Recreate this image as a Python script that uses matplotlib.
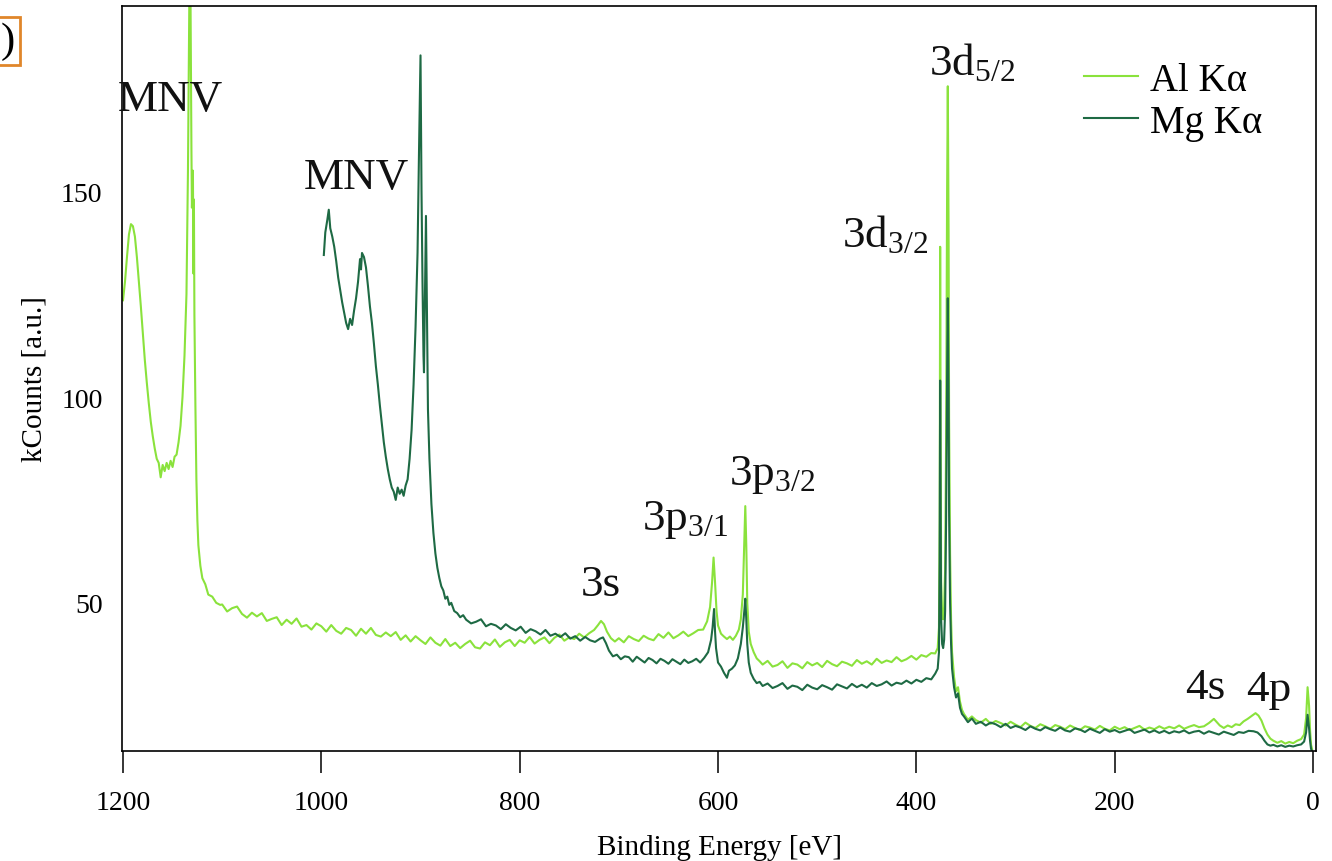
import matplotlib
matplotlib.use("Agg")
import matplotlib.pyplot as plt

plt.rcParams['font.family'] = ['Liberation Serif', 'DejaVu Serif']
plt.rcParams['mathtext.fontset'] = 'custom'
plt.rcParams['mathtext.rm'] = 'Liberation Serif'
plt.rcParams['mathtext.it'] = 'Liberation Serif:italic'

# survey spectrum, Al K-alpha source: binding energy [eV] / kCounts
al_energy = [
    1200, 1198, 1196, 1194, 1192, 1190, 1188, 1186, 1184, 1182, 1180, 1178, 1176, 1174, 1172, 1170,
    1168, 1166, 1164, 1162, 1160, 1158, 1156, 1154, 1152, 1150, 1148, 1146, 1144, 1142, 1140, 1138,
    1136, 1134.5, 1133, 1132, 1131, 1130.5, 1129.5, 1129, 1128.5, 1128, 1127, 1126, 1125, 1124, 1122,
    1120, 1117, 1114, 1110, 1106, 1102,
    1100, 1095, 1090, 1085, 1080, 1075, 1070, 1065, 1060, 1055, 1050, 1045, 1040, 1035, 1030, 1025,
    1020, 1015, 1010, 1005, 1000, 995, 990, 985, 980, 975, 970, 965, 960, 955, 950, 945, 940, 935,
    930, 925, 920, 915, 910, 905, 900, 895, 890, 885, 880, 875, 870, 865, 860, 855, 850, 845, 840,
    835, 830, 825, 820, 815, 810, 805, 800, 795, 790, 785, 780, 775, 770, 765, 760, 755, 750, 745,
    740, 735, 730, 725, 721, 718, 715, 712, 708, 704, 700, 695, 690, 685, 680, 675, 670, 665, 660,
    655, 650, 645, 640, 635, 630, 625, 620, 615, 611, 608, 606, 604.5, 603, 601.5, 600, 597, 594,
    591, 588, 585, 582, 579, 577, 575, 573.5, 572.5, 571.5, 570.5, 569, 567, 564, 561, 558, 555, 550,
    545, 540, 535, 530, 525, 520, 515, 510, 505, 500, 495, 490, 485, 480, 475, 470, 465, 460, 455,
    450, 445, 440, 435, 430, 425, 420, 415, 410, 405, 400, 395, 390, 385, 381,
    378.5, 377.2, 376.5, 376, 375.5, 375, 374, 373, 372, 371, 370, 369, 368.3, 367.5, 367, 366, 365,
    364, 362, 360, 358, 356, 354,
    352, 348, 344, 340, 335, 330, 325, 320, 315, 310, 305, 300, 295, 290, 285, 280, 275, 270, 265,
    260, 255, 250, 245, 240, 235, 230, 225, 220, 215, 210, 205, 200, 195, 190, 185, 180, 175, 170,
    165, 160, 155, 150, 145, 140, 135, 130, 125, 120, 115, 110, 105, 100, 97, 94, 90, 86, 82, 78, 74,
    70, 66, 62, 58, 55, 52, 49, 46, 43, 40, 36, 32, 28, 24, 20, 16, 12, 9, 7, 5.5, 4, 3, 2, 1,
]
al_counts = [
    123.5, 128, 134, 139.5, 142, 141.5, 139, 134, 128, 122, 115.5, 109, 103.5, 98.5, 94, 90.5,
    87.5, 85, 84, 80.5, 83.5, 82, 84, 82.5, 84.5, 83, 85.5, 86, 89, 93, 100, 110,
    125, 155, 200, 200, 160, 146, 155, 130, 148, 120, 98, 80, 70, 64, 59,
    56, 54.5, 52, 51.5, 50, 49.5,
    49.6, 47.9, 48.7, 49.1, 47.3, 46.4, 47.6, 46.7, 47.5, 45.6, 46.1, 46.5, 44.6, 45.9, 44.9, 46.2,
    44.2, 44.6, 43.5, 45.0, 44.3, 43.0, 44.6, 43.2, 42.5, 43.9, 43.4, 42.0, 43.7, 42.5, 43.9, 42.2, 41.8, 42.8,
    41.9, 42.9, 41.0, 42.1, 40.6, 41.9, 40.9, 40.0, 41.6, 40.3, 39.6, 41.2, 39.5, 40.3, 39.0, 40.0, 40.8, 39.2, 38.9,
    40.4, 39.7, 41.1, 39.3, 40.4, 41.0, 39.5, 40.9, 40.3, 41.7, 40.1, 41.0, 41.6, 40.2, 41.5, 42.3, 40.8, 41.6, 41.2,
    42.5, 41.6, 42.6, 43.4, 44.6, 45.6, 44.8, 43.0, 41.4, 40.6, 41.4, 40.4, 41.9, 41.2, 40.7, 42.0, 41.3, 40.9, 42.4,
    41.5, 42.8, 41.4, 42.1, 43.0, 41.9, 42.6, 43.4, 43.5, 45.5, 49, 55, 61, 55, 48, 44.5, 42.5, 41.8,
    41.2, 41.8, 41.0, 42.0, 43.5, 46, 52, 65, 73.5, 64, 50, 43, 40, 38, 36.5, 35.8, 35.0, 35.9,
    34.5, 34.9, 35.8, 34.2, 35.3, 35.0, 34.1, 35.6, 34.8, 35.4, 34.4, 35.9, 35.1, 34.6, 35.7, 35.3, 34.7, 36.1, 35.2,
    35.8, 35.0, 36.4, 35.4, 36.0, 35.6, 36.8, 35.8, 36.3, 37.1, 36.2, 37.3, 36.9, 37.8, 37.7,
    39, 44, 70, 136.5, 90, 55, 47, 46, 49, 58, 90, 150, 175.5, 140, 95, 62, 46,
    38, 32, 28.5, 29.5, 26, 24,
    23.0, 21.6, 22.4, 21.5, 20.9, 21.8, 20.6, 21.3, 20.8, 20.2, 21.1, 20.4, 19.8, 20.9, 20.1, 19.6, 20.5, 20.0, 19.4,
    20.3, 19.9, 19.3, 20.2, 19.6, 19.1, 20.0, 19.7, 19.2, 20.1, 19.4, 19.0, 19.9, 19.3, 19.8, 19.1, 19.6, 20.1, 19.2,
    19.7, 19.3, 20.0, 19.4, 19.9, 19.5, 20.2, 19.4, 19.9, 20.3, 19.8, 20.0, 20.8, 21.8, 21.0, 20.2, 19.6, 20.2, 19.8, 20.5, 20.3,
    21.2, 21.8, 22.5, 23.2, 22.6, 21.4, 19.5, 18.0, 17.0, 16.5, 16.0, 16.4, 15.8, 16.2, 15.9, 16.5, 16.9, 18.0, 22, 29.5, 25, 19, 15.5, 14.5,
]

# same sample, Mg K-alpha source
mg_energy = [
    997.5, 996, 994, 992.5, 991, 989, 987, 985, 983, 981, 979, 977, 975, 973, 971, 969, 967, 965,
    963, 961, 960, 959, 957, 955, 953, 951, 949, 947, 945, 943, 941, 939, 937, 935, 933, 931, 929,
    927, 925, 923, 921, 919, 917, 915, 913, 911, 909, 907, 905, 903, 901.5, 900, 899, 898, 897,
    896.5, 895.5, 894.5, 893.5, 892.5, 891, 889, 887, 885, 883, 881, 879, 877, 875, 873, 871, 869,
    866, 863, 860, 857,
    854, 849, 844, 839, 834, 829, 824, 819, 814, 809, 804, 799, 794, 789, 784, 779, 774, 769, 764,
    759, 754, 749, 744, 739, 734, 729, 724, 719, 716, 713, 710, 706, 702, 698, 694, 690, 686, 682,
    678, 674, 670, 666, 662, 658, 654, 650, 646, 642, 638, 634, 630, 626, 622, 618, 614, 610, 607,
    605.5, 604, 603, 602, 600, 597, 594, 591, 589, 586, 583, 580, 577, 575, 573.5, 572.5, 571.5,
    570.5, 569, 567, 564, 561, 558, 555, 550, 545, 540, 535, 530, 525, 520, 515, 510, 505, 500, 495,
    490, 485, 480, 475, 470, 465, 460, 455, 450, 445, 440, 435, 430, 425, 420, 415, 410, 405, 400,
    395, 390, 385, 381,
    378.5, 377.2, 376.5, 376, 375.5, 375, 374, 373, 372, 371, 370, 369, 368.3, 367.5, 367, 366, 365,
    364, 362, 360, 358, 356, 354,
    352, 348, 344, 340, 335, 330, 325, 320, 315, 310, 305, 300, 295, 290, 285, 280, 275, 270, 265,
    260, 255, 250, 245, 240, 235, 230, 225, 220, 215, 210, 205, 200, 195, 190, 185, 180, 175, 170,
    165, 160, 155, 150, 145, 140, 135, 130, 125, 120, 115, 110, 105, 100, 95, 90, 85, 80, 75, 70, 65,
    60, 56, 52, 49, 46, 43, 40, 36, 32, 28, 24, 20, 16, 12, 9, 7, 5.5, 4, 3, 2, 1,
]
mg_counts = [
    134.5, 140, 143, 145.5, 141, 139, 136.5, 133, 129, 126, 123, 120.5, 118, 116.5, 119, 117.5, 121, 124,
    128, 133.5, 131, 135, 134, 131.5, 127, 122, 118, 113, 107.5, 103, 98, 93.5, 89, 85.5, 82.5, 80, 78,
    77, 75, 78, 76.5, 77.5, 76, 78.5, 80, 85, 92, 103, 117, 135, 160, 183, 150, 128, 110,
    106, 125, 144, 120, 97, 85, 74, 67, 62, 58.5, 56, 54, 53, 51, 51.5, 49.5, 50,
    48, 47.5, 46.5, 47,
    45.9, 45.0, 45.4, 46.0, 44.3, 44.9, 44.5, 43.6, 44.8, 43.9, 43.3, 44.2, 42.7, 43.6, 43.1, 42.3, 43.4, 42.0, 42.5,
    41.7, 42.6, 41.3, 41.9, 40.8, 41.7, 40.9, 40.5, 41.3, 41.6, 40.2, 38.4, 37.0, 37.4, 36.3, 37.0, 36.8, 35.7, 36.9,
    36.2, 35.5, 36.6, 36.1, 35.3, 36.4, 35.9, 35.2, 36.3, 35.7, 35.1, 36.2, 35.4, 35.8, 36.4, 35.5, 36.6, 38, 41,
    44, 48.5, 43, 39, 35.5, 34.5, 33.0, 31.8, 33.5, 34.0, 34.8, 36.5, 40, 44, 48, 51, 46,
    40, 35.5, 33, 31.5, 30.5, 30.8, 29.8, 30.4, 29.3, 29.8, 30.5, 29.1, 29.9, 29.6, 28.8, 30.1, 29.4, 29.0, 30.0,
    29.5, 28.9, 30.2, 29.7, 29.2, 30.3, 29.5, 30.1, 29.4, 30.5, 29.8, 30.2, 30.9, 29.9, 30.6, 30.3, 31.1, 30.4, 31.3,
    30.8, 31.7, 31.4, 32.8,
    34, 38, 60, 104, 70, 46, 40, 39, 41, 48, 70, 105, 124, 100, 72, 50, 40,
    34, 29.5, 27, 28, 24.5, 23,
    22.4, 21.0, 21.9, 20.6, 21.1, 20.2, 20.9, 20.5, 19.8, 20.6, 19.6, 20.1, 19.7, 19.1, 20.0, 19.4, 19.0, 19.8, 19.3,
    18.9, 19.7, 19.0, 18.7, 19.5, 19.2, 18.6, 19.4, 18.9, 18.4, 19.3, 18.7, 19.1, 18.5, 18.9, 19.3, 18.4, 18.8, 19.2,
    18.5, 19.0, 18.4, 18.9, 18.3, 18.8, 18.5, 19.0, 18.3, 18.7, 18.9, 18.2, 18.8, 18.4, 18.0, 18.7, 18.3, 17.9, 18.6, 18.4, 18.9,
    18.8, 18.5, 17.6, 16.5, 15.6, 15.3, 15.5, 15.1, 15.4, 15.0, 15.3, 15.1, 15.4, 15.6, 16.3, 18.5, 22.8, 19.5, 16.5, 14.5, 14,
]

peak_labels = ['MNV', 'MNV', '3s', '3p$_{\\mathregular{3/1}}$', '3p$_{\\mathregular{3/2}}$',
               '3d$_{\\mathregular{3/2}}$', '3d$_{\\mathregular{5/2}}$', '4s', '4p']
label_energy = [1152, 965, 718, 633, 546, 432, 344, 109, 45]
label_counts = [172.3, 153.4, 54.6, 70.4, 81.3, 139.6, 181.5, 29.6, 29.1]

al_color = '#8ae23c'
mg_color = '#1e6a44'

fig = plt.figure(figsize=(13.32, 8.62), dpi=100)
ax = fig.add_axes([0.0916, 0.1276, 0.8964, 0.8643])

ax.plot(al_energy, al_counts, color=al_color, lw=1.5, label='Al K\u03b1')
ax.plot(mg_energy, mg_counts, color=mg_color, lw=1.5, label='Mg K\u03b1')

for txt, e, c in zip(peak_labels, label_energy, label_counts):
    ax.text(e, c, txt, fontsize=32.5, ha='center', va='center', color='#111111')

ax.set_xlim(1201, -3)
ax.set_ylim(14, 195)
ax.set_xticks([1200, 1000, 800, 600, 400, 200, 0])
ax.set_yticks([50, 100, 150])
ax.tick_params(axis='x', direction='out', length=16, width=1.1, pad=12, labelsize=20)
ax.tick_params(axis='y', length=0, pad=14, labelsize=20)
for sp in ax.spines.values():
    sp.set_linewidth(1.2)

ax.set_xlabel('Binding Energy [eV]', fontsize=21)
ax.set_ylabel('kCounts [a.u.]', fontsize=21)
ax.xaxis.set_label_coords(0.5, -0.112)
ax.yaxis.set_label_coords(-0.062, 0.5)

ax.legend(loc='upper right', bbox_to_anchor=(0.955, 0.925), frameon=False, fontsize=28,
          handlelength=1.4, handletextpad=0.3, labelspacing=0.12, borderpad=0, borderaxespad=0)

# panel tag at the left edge
fig.text(1 / 1332, 1 - 42 / 862, ')', fontsize=31, ha='left', va='center',
         bbox=dict(boxstyle='square,pad=0.12', fc='none', ec='#e0862a', lw=2))

fig.savefig('out.png', dpi=100)
